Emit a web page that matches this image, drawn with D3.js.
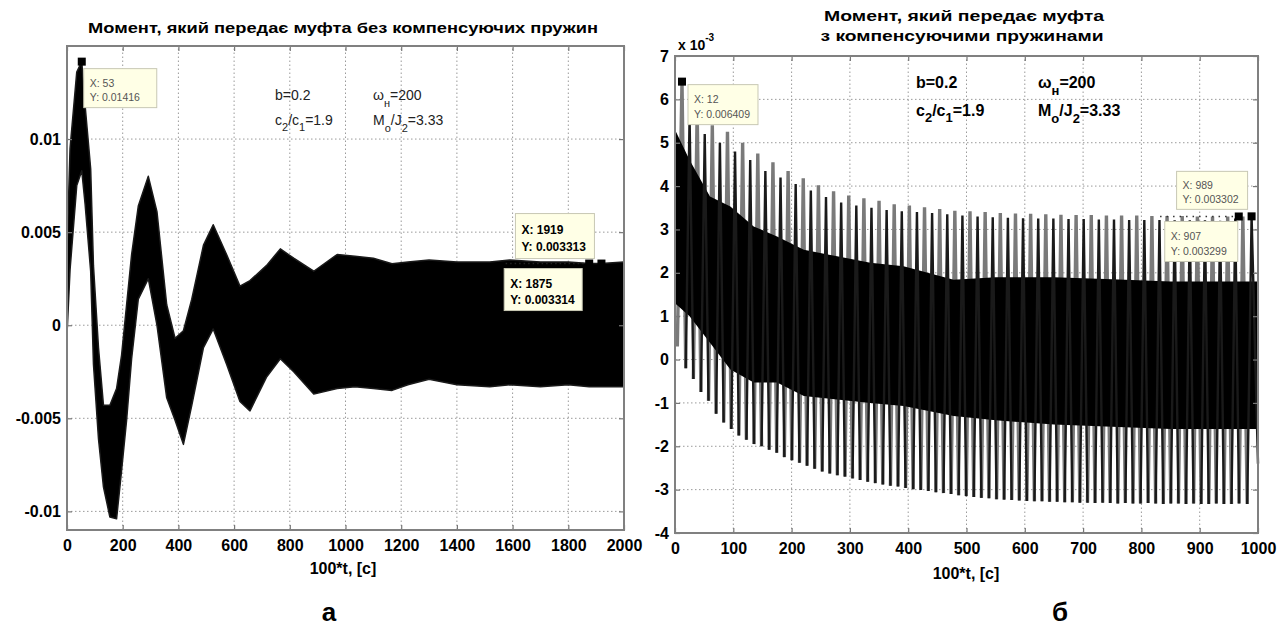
<!DOCTYPE html>
<html>
<head>
<meta charset="utf-8">
<script src="https://cdn.jsdelivr.net/npm/d3@7"></script>
<style>
  body { margin: 0; background: #fff; }
  svg { display: block; }
</style>
</head>
<body>
<svg id="chart" width="1286" height="630"></svg>
<script>
// ---- panel a: moment without compensating springs (envelope of the dense signal)
const leftT = [0, 11, 35, 53, 65, 85, 95, 113, 131, 154, 178, 196, 214, 232, 256, 292, 323, 358, 388, 418,
  448, 490, 525, 573, 621, 657, 716, 766, 814, 886, 970, 1034, 1100, 1167, 1224, 1300, 1400, 1518, 1590, 1700,
  1800, 1875, 1919, 2000];
const leftUpper = [0.004, 0.0095, 0.0136, 0.01416, 0.0118, 0.0084, 0.0032, -0.0012, -0.0043, -0.0043,
  -0.0034, -0.0016, 0.0011, 0.0038, 0.0064, 0.0080, 0.0061, 0.0011, -0.0007, -0.0003,
  0.0014, 0.0043, 0.0054, 0.0038, 0.0021, 0.0024, 0.0032, 0.0041, 0.0036, 0.0029,
  0.0038, 0.0037, 0.0036, 0.0033, 0.0034, 0.0035, 0.0034, 0.0034, 0.0035, 0.0034,
  0.0034, 0.003314, 0.003313, 0.0034];
const leftLower = [-0.0005, 0.003, 0.0075, 0.0083, 0.0065, 0.0029, -0.0021, -0.0061, -0.0087, -0.0103,
  -0.0104, -0.0078, -0.0051, -0.0018, 0.0014, 0.0025, 0.0, -0.0039, -0.0051, -0.0064,
  -0.0043, -0.0012, -0.0002, -0.0021, -0.0041, -0.0046, -0.0028, -0.0018, -0.0025, -0.0037,
  -0.0034, -0.0033, -0.0034, -0.0035, -0.0032, -0.0029, -0.0032, -0.0033, -0.0032, -0.0033,
  -0.0032, -0.0033, -0.0033, -0.0033];
const leftXTicks = [0, 200, 400, 600, 800, 1000, 1200, 1400, 1600, 1800, 2000];
const leftYTicks = [-0.01, -0.005, 0, 0.005, 0.01];
const leftYLabels = ['-0.01', '-0.005', '0', '0.005', '0.01'];

// ---- panel б: moment with compensating springs (values in 1e-3)
const spikeT = [12, 25, 38, 51, 64, 77, 90, 103, 116, 129, 142, 155, 168, 181, 194, 207, 220, 233, 246, 259,
  272, 285, 298, 311, 324, 337, 350, 363, 376, 389, 402, 415, 428, 441, 454, 467, 480, 493, 506, 519,
  532, 545, 558, 571, 584, 597, 610, 623, 636, 649, 662, 675, 688, 701, 714, 727, 740, 753, 766, 779,
  792, 805, 818, 831, 844, 857, 870, 883, 896, 909, 922, 935, 948, 961, 974, 989];
const spikeUp = [6.41, 5.6, 5.75, 5.2, 5.4, 5.0, 5.25, 4.8, 5.0, 4.6, 4.75, 4.35, 4.55, 4.2, 4.35, 4.05, 4.18, 3.9, 4.02, 3.75,
  3.88, 3.62, 3.78, 3.55, 3.72, 3.5, 3.66, 3.45, 3.58, 3.42, 3.55, 3.4, 3.51, 3.38, 3.47, 3.35, 3.43, 3.32, 3.42, 3.3,
  3.4, 3.28, 3.38, 3.27, 3.37, 3.26, 3.36, 3.25, 3.35, 3.25, 3.34, 3.24, 3.33, 3.24, 3.33, 3.23, 3.32, 3.23, 3.32, 3.22,
  3.32, 3.22, 3.31, 3.22, 3.31, 3.21, 3.31, 3.21, 3.30, 3.21, 3.30, 3.2, 3.30, 3.25, 3.30, 3.302];
const spikeDown = [0.3, -0.2, -0.45, -0.75, -0.95, -1.25, -1.45, -1.6, -1.75, -1.85, -1.95, -2.0, -2.08, -2.15, -2.25, -2.32, -2.38, -2.45, -2.52, -2.58,
  -2.63, -2.67, -2.7, -2.74, -2.78, -2.82, -2.85, -2.88, -2.91, -2.93, -2.96, -2.99, -3.01, -3.03, -3.06, -3.08, -3.1, -3.13, -3.15, -3.17,
  -3.19, -3.2, -3.22, -3.23, -3.24, -3.25, -3.26, -3.27, -3.27, -3.28, -3.28, -3.29, -3.29, -3.3, -3.3, -3.31, -3.3, -3.31, -3.32, -3.31,
  -3.32, -3.32, -3.31, -3.32, -3.33, -3.32, -3.32, -3.33, -3.32, -3.33, -3.33, -3.32, -3.33, -3.33, -3.32, -3.33, -2.4];
const coreT = [0, 25, 60, 95, 135, 175, 221, 278, 335, 392, 478, 550, 650, 750, 850, 950, 1000];
const coreTop = [5.3, 4.6, 3.76, 3.53, 3.07, 2.84, 2.53, 2.38, 2.23, 2.15, 1.84, 1.9, 1.9, 1.85, 1.8, 1.8, 1.8];
const coreBottom = [1.3, 1.0, 0.39, -0.23, -0.53, -0.53, -0.84, -0.92, -1.0, -1.07, -1.3, -1.4, -1.5, -1.55, -1.6, -1.6, -1.6];
const rightXTicks = [0, 100, 200, 300, 400, 500, 600, 700, 800, 900, 1000];
const rightYTicks = [-4, -3, -2, -1, 0, 1, 2, 3, 4, 5, 6, 7];

// data tips
const leftTips = [
  { x: 53, y: 0.01416, lines: ['X: 53', 'Y: 0.01416'], dx: 2, dy: 7, w: 73, h: 39, bold: false },
  { x: 1919, y: 0.003313, lines: ['X: 1919', 'Y: 0.003313'], dx: -86, dy: -50, w: 79, h: 45, bold: true },
  { x: 1875, y: 0.003314, lines: ['X:  1875', 'Y: 0.003314'], dx: -85, dy: 5, w: 78, h: 42, bold: true }
];
const rightTips = [
  { x: 12, y: 6.409, lines: ['X: 12', 'Y: 0.006409'], dx: 6, dy: 3, w: 70, h: 40, bold: false },
  { x: 989, y: 3.302, lines: ['X: 989', 'Y: 0.003302'], dx: -75, dy: -45, w: 71, h: 38, bold: false },
  { x: 967, y: 3.299, lines: ['X: 907', 'Y: 0.003299'], dx: -74, dy: 5, w: 73, h: 40, bold: false }
];

const svg = d3.select('#chart');
const FONT = '"Liberation Sans", Arial, sans-serif';

function frame(g, x, y, xTicks, yTicks) {
  const [x0, x1] = x.range();
  const [y0, y1] = y.range();
  const grid = g.append('g')
    .attr('stroke', '#9a9a9a')
    .attr('stroke-width', 1)
    .attr('stroke-dasharray', '1.5,2.5');
  grid.selectAll('line.gx')
    .data(xTicks.slice(1, -1))
    .join('line')
    .attr('x1', d => x(d)).attr('x2', d => x(d))
    .attr('y1', y0).attr('y2', y1);
  grid.selectAll('line.gy')
    .data(yTicks.filter(d => y(d) > y1 + 1 && y(d) < y0 - 1))
    .join('line')
    .attr('x1', x0).attr('x2', x1)
    .attr('y1', d => y(d)).attr('y2', d => y(d));
}

function axes(g, x, y, xTicks, yTicks, yFmt) {
  const [x0, x1] = x.range();
  const [y0, y1] = y.range();
  const style = sel => {
    sel.select('.domain').remove();
    sel.selectAll('line').attr('stroke', '#777').attr('stroke-width', 1.2);
    sel.selectAll('text')
      .attr('font-family', FONT)
      .attr('font-weight', 'bold')
      .attr('font-size', 16)
      .attr('fill', '#000');
  };
  g.append('g')
    .attr('transform', `translate(0,${y0})`)
    .call(d3.axisBottom(x).tickValues(xTicks).tickSize(-5).tickPadding(10).tickFormat(d => String(d)))
    .call(style);
  g.append('g')
    .attr('transform', `translate(0,${y1})`)
    .call(d3.axisTop(x).tickValues(xTicks).tickSize(-5).tickFormat(''))
    .call(style);
  g.append('g')
    .attr('transform', `translate(${x0},0)`)
    .call(d3.axisLeft(y).tickValues(yTicks).tickSize(-5).tickPadding(6).tickFormat(yFmt))
    .call(style);
  g.append('g')
    .attr('transform', `translate(${x1},0)`)
    .call(d3.axisRight(y).tickValues(yTicks).tickSize(-5).tickFormat(''))
    .call(style);
  g.append('rect')
    .attr('x', x0).attr('y', y1)
    .attr('width', x1 - x0).attr('height', y0 - y1)
    .attr('fill', 'none')
    .attr('stroke', '#808080')
    .attr('stroke-width', 2);
}

function tips(g, x, y, list) {
  list.forEach(t => {
    const px = x(t.x), py = y(t.y);
    const tg = g.append('g');
    tg.append('rect')
      .attr('x', px + t.dx).attr('y', py + t.dy)
      .attr('width', t.w).attr('height', t.h)
      .attr('fill', '#ffffe6')
      .attr('stroke', '#c8c8b4')
      .attr('stroke-width', 1);
    t.lines.forEach((s, i) => {
      tg.append('text')
        .attr('x', px + t.dx + 6)
        .attr('y', py + t.dy + (i === 0 ? 0.36 : 0.74) * t.h + 4)
        .attr('font-family', FONT)
        .attr('font-size', t.bold ? 12 : 10.5)
        .attr('font-weight', t.bold ? 'bold' : 'normal')
        .attr('fill', t.bold ? '#000' : '#555')
        .text(s);
    });
    g.append('rect')
      .attr('x', px - 4).attr('y', py - 4)
      .attr('width', 8).attr('height', 8)
      .attr('fill', '#000');
  });
}

function params(g, xs, ys, bold, color, size) {
  const w = bold ? 'bold' : 'normal';
  const mk = (x, y, parts) => {
    const t = g.append('text')
      .attr('x', x).attr('y', y)
      .attr('font-family', FONT)
      .attr('font-size', size)
      .attr('font-weight', w)
      .attr('fill', color);
    parts.forEach(p => {
      t.append('tspan')
        .attr('dy', p[1])
        .attr('font-size', p[2] ? size - 3 : size)
        .text(p[0]);
    });
  };
  mk(xs[0], ys[0], [['b=0.2', 0]]);
  mk(xs[0], ys[1], [['c', 0], ['2', 6, 1], ['/c', -6], ['1', 6, 1], ['=1.9', -6]]);
  mk(xs[1], ys[0], [['ω', 0], ['н', 7, 1], ['=200', -7]]);
  mk(xs[1], ys[1], [['M', 0], ['o', 7, 1], ['/J', -7], ['2', 7, 1], ['=3.33', -7]]);
}

// ================= panel а =================
{
  const x = d3.scaleLinear().domain([0, 2000]).range([67, 624]);
  const y = d3.scaleLinear().domain([-0.011, 0.015]).range([530, 46]);
  const g = svg.append('g');
  frame(g, x, y, leftXTicks, leftYTicks);

  const band = leftT.map((t, i) => ({ t, hi: leftUpper[i], lo: leftLower[i] }));
  g.append('path')
    .datum(band)
    .attr('fill', '#000')
    .attr('stroke', '#1a1a1a')
    .attr('stroke-width', 1.5)
    .attr('stroke-linejoin', 'round')
    .attr('d', d3.area().x(d => x(d.t)).y0(d => y(d.lo)).y1(d => y(d.hi)));

  // dotted guide of the lower data tip
  g.append('line')
    .attr('x1', x(1575)).attr('x2', x(1875))
    .attr('y1', y(0.003314)).attr('y2', y(0.003314))
    .attr('stroke', '#222').attr('stroke-width', 1.5)
    .attr('stroke-dasharray', '1.5,3');

  axes(g, x, y, leftXTicks, leftYTicks, (d, i) => leftYLabels[i]);
  tips(g, x, y, leftTips);
  params(g, [275, 373], [100, 125], false, '#222', 14);

  g.append('text')
    .attr('x', 343).attr('y', 33)
    .attr('text-anchor', 'middle')
    .attr('textLength', 510).attr('lengthAdjust', 'spacingAndGlyphs')
    .attr('font-family', FONT).attr('font-weight', 'bold').attr('font-size', 15)
    .text('Момент, який передає муфта без компенсуючих пружин');
  g.append('text')
    .attr('x', 343).attr('y', 574)
    .attr('text-anchor', 'middle')
    .attr('font-family', FONT).attr('font-weight', 'bold').attr('font-size', 16)
    .text('100*t, [c]');
  g.append('text')
    .attr('x', 329).attr('y', 621)
    .attr('text-anchor', 'middle')
    .attr('font-family', FONT).attr('font-weight', 'bold').attr('font-size', 26)
    .text('а');
}

// ================= panel б =================
{
  const x = d3.scaleLinear().domain([0, 1000]).range([675, 1258]);
  const y = d3.scaleLinear().domain([-4, 7]).range([533, 56]);
  const g = svg.append('g');
  frame(g, x, y, rightXTicks, rightYTicks);

  // trough times sit between neighbouring peaks
  const troughT = spikeDown.map((v, i) =>
    i === 0 ? spikeT[0] - 8 : i === spikeT.length ? 1000 : (spikeT[i - 1] + spikeT[i]) / 2);
  const spikes = spikeT.map((t, i) => ({
    i,
    pts: [[troughT[i], spikeDown[i]], [t, spikeUp[i]], [troughT[i + 1], spikeDown[i + 1]]]
  }));
  const line = d3.line().x(d => x(d[0])).y(d => y(d[1]));
  const plot = g.append('g');

  plot.selectAll('path.gray')
    .data(spikes.filter(d => d.i % 2 === 0))
    .join('path')
    .attr('class', 'gray')
    .attr('fill', 'none')
    .attr('stroke', '#7a7a7a')
    .attr('stroke-width', 3.4)
    .attr('d', d => line(d.pts));

  const core = coreT.map((t, i) => ({ t, hi: coreTop[i], lo: coreBottom[i] }));
  plot.append('path')
    .datum(core)
    .attr('fill', '#000')
    .attr('d', d3.area().x(d => x(d.t)).y0(d => y(d.lo)).y1(d => y(d.hi)));

  plot.selectAll('path.black')
    .data(spikes.filter(d => d.i % 2 === 1))
    .join('path')
    .attr('class', 'black')
    .attr('fill', 'none')
    .attr('stroke', '#1a1a1a')
    .attr('stroke-width', 2.4)
    .attr('d', d => line(d.pts));

  g.append('line')
    .attr('x1', x(832)).attr('x2', x(967))
    .attr('y1', y(3.299)).attr('y2', y(3.299))
    .attr('stroke', '#333').attr('stroke-width', 1.5)
    .attr('stroke-dasharray', '1.5,5');

  axes(g, x, y, rightXTicks, rightYTicks, d => String(d));
  tips(g, x, y, rightTips);
  params(g, [916, 1038], [88, 116], true, '#000', 16);

  const ex = g.append('text')
    .attr('x', 678).attr('y', 50)
    .attr('font-family', FONT).attr('font-weight', 'bold').attr('font-size', 14);
  ex.append('tspan').text('x 10');
  ex.append('tspan').attr('dy', -9).attr('font-size', 10).text('-3');

  const title = g.append('text')
    .attr('text-anchor', 'middle')
    .attr('font-family', FONT).attr('font-weight', 'bold').attr('font-size', 15);
  title.append('tspan').attr('x', 964).attr('y', 21)
    .attr('textLength', 280).attr('lengthAdjust', 'spacingAndGlyphs')
    .text('Момент, який передає муфта');
  title.append('tspan').attr('x', 962).attr('y', 41)
    .attr('textLength', 283).attr('lengthAdjust', 'spacingAndGlyphs')
    .text('з компенсуючими пружинами');

  g.append('text')
    .attr('x', 966).attr('y', 579)
    .attr('text-anchor', 'middle')
    .attr('font-family', FONT).attr('font-weight', 'bold').attr('font-size', 16)
    .text('100*t, [c]');
  g.append('text')
    .attr('x', 1060).attr('y', 621)
    .attr('text-anchor', 'middle')
    .attr('font-family', FONT).attr('font-weight', 'bold').attr('font-size', 26)
    .text('б');
}
</script>
</body>
</html>
